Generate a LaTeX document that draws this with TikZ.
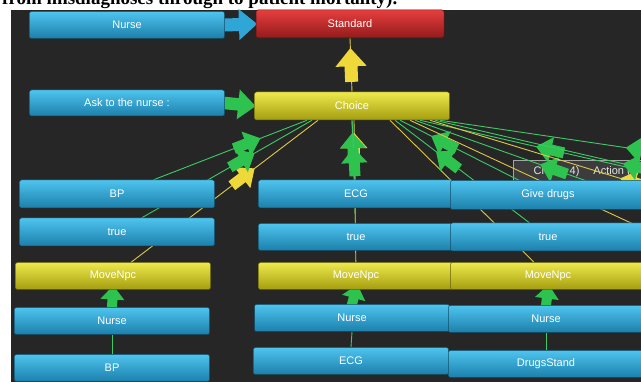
\documentclass[tikz,border=0pt]{standalone}
\usepackage{fontspec}
\setmainfont{Liberation Sans}
\newfontfamily\paperfont{Liberation Serif}
\usetikzlibrary{calc}

\definecolor{bgdark}{HTML}{262626}
\definecolor{bluetop}{HTML}{4EC4EE}
\definecolor{bluebot}{HTML}{1B7FAB}
\definecolor{yeltop}{HTML}{EEE94C}
\definecolor{yelbot}{HTML}{A49E10}
\definecolor{redtop}{HTML}{E63E3E}
\definecolor{redbot}{HTML}{921B1B}
\definecolor{linkgreen}{HTML}{3CCB66}
\definecolor{linkyellow}{HTML}{DCC84A}
\definecolor{arrgreen}{HTML}{2EC24F}
\definecolor{arryellow}{HTML}{EED83A}
\definecolor{arrblue}{HTML}{2FA6D6}
\definecolor{tipgrey}{HTML}{3C3C3C}

\pgfdeclarelayer{back}
\pgfdeclarelayer{links}
\pgfsetlayers{back,links,main}

\tikzset{
  linkarrow/.pic={\fill[pic actions] (13,0) -- (-1,12) -- (-1,5) -- (-13,5) -- (-13,-5) -- (-1,-5) -- (-1,-12) -- cycle;}
}

\begin{document}
\begin{tikzpicture}[x=1pt, y=-1pt,
    box/.style={rectangle, rounded corners=2pt, minimum width=195pt, minimum height=27pt,
      inner sep=0pt, text=white, font=\fontsize{11}{13}\selectfont},
    bluebox/.style={box, top color=bluetop, bottom color=bluebot, draw=bluebot!60!black, line width=0.5pt},
    yelbox/.style={box, top color=yeltop, bottom color=yelbot, draw=yelbot!60!black, line width=0.5pt},
    redbox/.style={box, top color=redtop, bottom color=redbot, draw=redbot!60!black, line width=0.5pt},
    glink/.style={draw=linkgreen, line width=0.9pt},
    ylink/.style={draw=linkyellow, line width=0.9pt},
    garr/.style={sloped, allow upside down, scale=1.1, fill=arrgreen},
    yarr/.style={sloped, allow upside down, scale=1.1, fill=arryellow}]

\useasboundingbox (0,0) rectangle (641,382);

% header line of the page, cut off
\begin{scope}
  \clip (0,0) rectangle (641,10);
  \node[anchor=base west, inner sep=0pt, font=\paperfont\bfseries\fontsize{19}{21}\selectfont] (caption) at (2,4.5)
    {from misdiagnoses through to patient mortality).};
\end{scope}

% top rows
\node[bluebox] (nurseTop) at (127,25) {Nurse};
\node[redbox, minimum width=188pt, minimum height=28pt] (standard) at (350,24) {Standard};
\node[bluebox, minimum height=26pt] (askNurse) at (127,103) {Ask to the nurse :};
\node[yelbox, minimum height=28pt] (choice) at (352,106) {Choice};

% left column
\node[bluebox, minimum height=28pt] (bpCond) at (117,194) {BP};
\node[bluebox, minimum height=28pt] (bpTrue) at (117,232) {true};
\node[yelbox] (bpMove) at (113,276) {MoveNpc};
\node[bluebox] (bpNurse) at (112,321) {Nurse};
\node[bluebox] (bpObj) at (112,368) {BP};

% middle column
\node[bluebox, minimum height=28pt] (ecgCond) at (356,194) {ECG};
\node[bluebox] (ecgTrue) at (356,237) {true};
\node[yelbox] (ecgMove) at (356,276) {MoveNpc};
\node[bluebox] (ecgNurse) at (352,318) {Nurse};
\node[bluebox] (ecgObj) at (351,361) {ECG};

% right column
\node[bluebox, minimum height=29pt] (drugsCond) at (548,195) {Give drugs};
\node[bluebox, minimum height=28pt] (drugsTrue) at (548,237) {true};
\node[yelbox] (drugsMove) at (548,276) {MoveNpc};
\node[bluebox] (drugsNurse) at (546,319) {Nurse};
\node[bluebox] (drugsObj) at (546,364) {DrugsStand};

% columns out of view
\coordinate (outCondA) at (745,194);
\coordinate (outTrueA) at (745,237);
\coordinate (outMoveA) at (745,276);
\coordinate (outCondB) at (940,194);
\coordinate (outTrueB) at (940,237);
\coordinate (outMoveB) at (940,276);

\begin{pgfonlayer}{back}
  \fill[bgdark] (11,10) rectangle (641,382);
  \node[draw=gray!70, fill=tipgrey, minimum width=130pt, minimum height=23pt, inner sep=0pt,
    text=white!90!black, font=\fontsize{11}{13}\selectfont, anchor=west] (tip) at (513,171.5)
    {\hspace{8pt}Ch\hspace{22pt}4)\hspace{14pt}Action (\hfill};
\end{pgfonlayer}

\begin{pgfonlayer}{links}
  \path (nurseTop.east) -- (standard.west) pic[midway, sloped, allow upside down, scale=1.3, fill=arrblue] {linkarrow};
  \path (askNurse.east) -- (choice.west) pic[midway, sloped, allow upside down, scale=1.25, fill=arrgreen] {linkarrow};
  \draw[ylink] (choice.north) -- (standard.south) pic[midway, sloped, allow upside down, scale=1.3, fill=arryellow] {linkarrow};

  % links into the choice
  \draw[ylink] (bpMove) -- ($(choice.south)+(-34,0)$) pic[pos=.60, yarr] {linkarrow};
  \draw[glink] (bpTrue) -- ($(choice.south)+(-40,0)$) pic[pos=.59, garr] {linkarrow};
  \draw[glink] (bpCond) -- ($(choice.south)+(-45,0)$) pic[pos=.61, garr] {linkarrow};
  \draw[ylink] (ecgMove) -- ($(choice.south)+(2,0)$) pic[pos=.81, yarr] {linkarrow};
  \draw[glink] (ecgTrue) -- ($(choice.south)+(0,0)$) pic[pos=.74, garr] {linkarrow};
  \draw[glink] (ecgCond) -- ($(choice.south)+(0,0)$) pic[pos=.30, garr] {linkarrow};
  \draw[ylink] (drugsMove) -- ($(choice.south)+(38,0)$) pic[pos=.50, yarr] {linkarrow};
  \draw[glink] (drugsTrue) -- ($(choice.south)+(43,0)$) pic[pos=.61, garr] {linkarrow};
  \draw[glink] (drugsCond) -- ($(choice.south)+(48,0)$) pic[pos=.63, garr] {linkarrow};
  \draw[ylink] (outMoveA) -- ($(choice.south)+(58,0)$) pic[pos=.52, yarr] {linkarrow};
  \draw[glink] (outTrueA) -- ($(choice.south)+(63,0)$) pic[pos=.58, garr] {linkarrow};
  \draw[glink] (outCondA) -- ($(choice.south)+(68,0)$) pic[pos=.60, garr] {linkarrow};
  \draw[ylink] (outMoveB) -- ($(choice.south)+(78,0)$) pic[pos=.60, yarr] {linkarrow};
  \draw[glink] (outTrueB) -- ($(choice.south)+(83,0)$) pic[pos=.60, garr] {linkarrow};
  \draw[glink] (outCondB) -- ($(choice.south)+(88,0)$) pic[pos=.60, garr] {linkarrow};

  % nurse and object links
  \draw[glink] (bpNurse.north) -- (bpMove.south) pic[midway, sloped, allow upside down, fill=arrgreen] {linkarrow};
  \draw[glink] (ecgNurse.north) -- (ecgMove.south) pic[midway, sloped, allow upside down, fill=arrgreen] {linkarrow};
  \draw[glink] (drugsNurse.north) -- (drugsMove.south) pic[midway, sloped, allow upside down, fill=arrgreen] {linkarrow};
  \draw[glink] (bpObj.north) -- (bpNurse.south);
  \draw[glink] (ecgObj.north) -- (ecgNurse.south);
  \draw[glink] (drugsObj.north) -- (drugsNurse.south);
\end{pgfonlayer}

\end{tikzpicture}
\end{document}
